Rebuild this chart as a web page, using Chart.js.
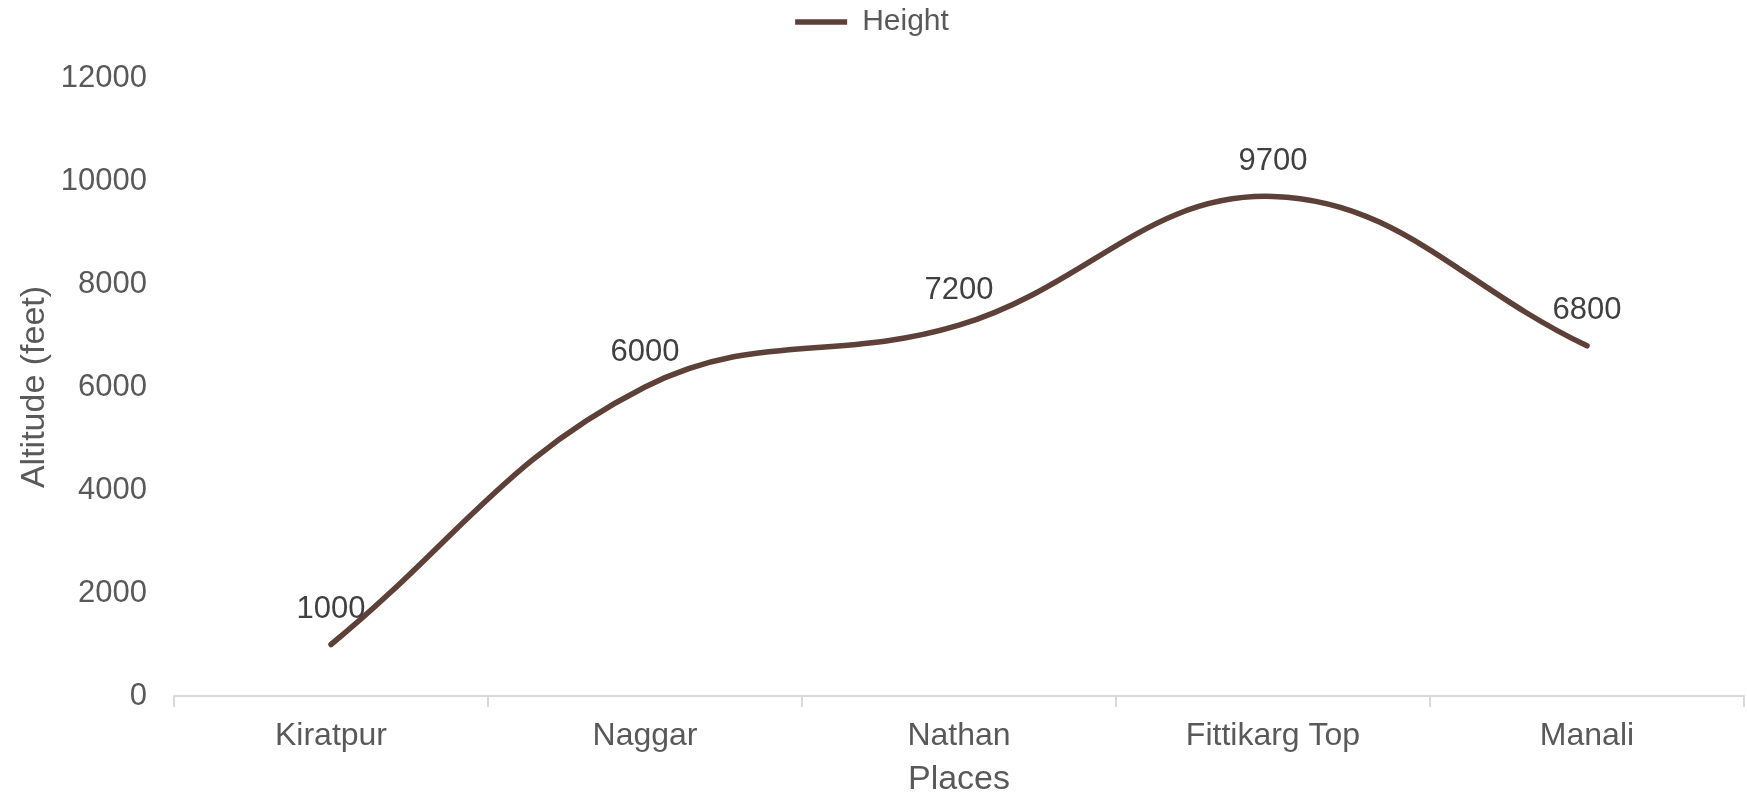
<!DOCTYPE html>
<html>
<head>
<meta charset="utf-8">
<script src="https://cdn.jsdelivr.net/npm/chart.js@4.4.1/dist/chart.umd.min.js"></script>
<style>
  html, body { margin: 0; padding: 0; background: #fff; }
  #wrap { width: 1747px; height: 794px; }
</style>
</head>
<body>
<div id="wrap"><canvas id="altChart"></canvas></div>
<script>
const places = ["Kiratpur", "Naggar", "Nathan", "Fittikarg Top", "Manali"];
const heights = [1000, 6000, 7200, 9700, 6800];
const yTicks = [0, 2000, 4000, 6000, 8000, 10000, 12000];

const FONT = "'Liberation Sans', Arial, sans-serif";

// draws the value labels above each point
const valueLabels = {
  id: "valueLabels",
  afterDatasetsDraw(chart) {
    const ctx = chart.ctx;
    const meta = chart.getDatasetMeta(0);
    ctx.save();
    ctx.font = "31px " + FONT;
    ctx.fillStyle = "#404040";
    ctx.textAlign = "center";
    ctx.textBaseline = "middle";
    meta.data.forEach((pt, i) => {
      ctx.fillText(String(heights[i]), pt.x, pt.y - 35);
    });
    ctx.restore();
  },
};

// extra space under the legend
const legendGap = {
  id: "legendGap",
  beforeInit(chart) {
    const fit = chart.legend.fit;
    chart.legend.fit = function () {
      fit.bind(chart.legend)();
      this.height += 31;
    };
  },
};

const ctx = document.getElementById("altChart").getContext("2d");

new Chart(ctx, {
  type: "line",
  data: {
    labels: places,
    datasets: [
      {
        label: "Height",
        data: heights,
        borderColor: "#5d4037",
        backgroundColor: "#5d4037",
        borderWidth: 5.5,
        borderCapStyle: "round",
        tension: 0.4,
        pointRadius: 0,
        pointStyle: "line",
        fill: false,
      },
    ],
  },
  options: {
    responsive: true,
    maintainAspectRatio: false,
    animation: false,
    layout: { padding: { top: 0, right: 3, bottom: 0, left: 0 } },
    plugins: {
      legend: {
        position: "top",
        labels: {
          usePointStyle: true,
          pointStyleWidth: 52,
          color: "#595959",
          font: { family: FONT, size: 30 },
          padding: 7,
        },
      },
      tooltip: { enabled: false },
    },
    scales: {
      x: {
        offset: true,
        grid: {
          offset: true,
          drawOnChartArea: false,
          drawTicks: true,
          tickLength: 11,
          color: "#d9d9d9",
          lineWidth: 2,
        },
        border: { display: true, color: "#d9d9d9", width: 2 },
        ticks: {
          color: "#595959",
          font: { family: FONT, size: 32 },
          padding: 10,
          maxRotation: 0,
        },
        title: {
          display: true,
          text: "Places",
          color: "#595959",
          font: { family: FONT, size: 34, lineHeight: 0.8 },
          padding: { top: 0, bottom: 1 },
        },
        afterFit(scale) {
          scale.height = 98;
        },
      },
      y: {
        min: 0,
        max: 12000,
        grid: { display: false, drawTicks: false },
        border: { display: false },
        afterBuildTicks(scale) {
          scale.ticks = yTicks.map((v) => ({ value: v }));
        },
        ticks: {
          color: "#595959",
          font: { family: FONT, size: 31 },
          padding: 27,
          callback: (v) => String(v),
        },
        title: {
          display: true,
          text: "Altitude (feet)",
          color: "#595959",
          font: { family: FONT, size: 34 },
          padding: { top: 14, bottom: 0 },
        },
        afterFit(scale) {
          scale.width = 174;
        },
      },
    },
  },
  plugins: [valueLabels, legendGap],
});
</script>
</body>
</html>
